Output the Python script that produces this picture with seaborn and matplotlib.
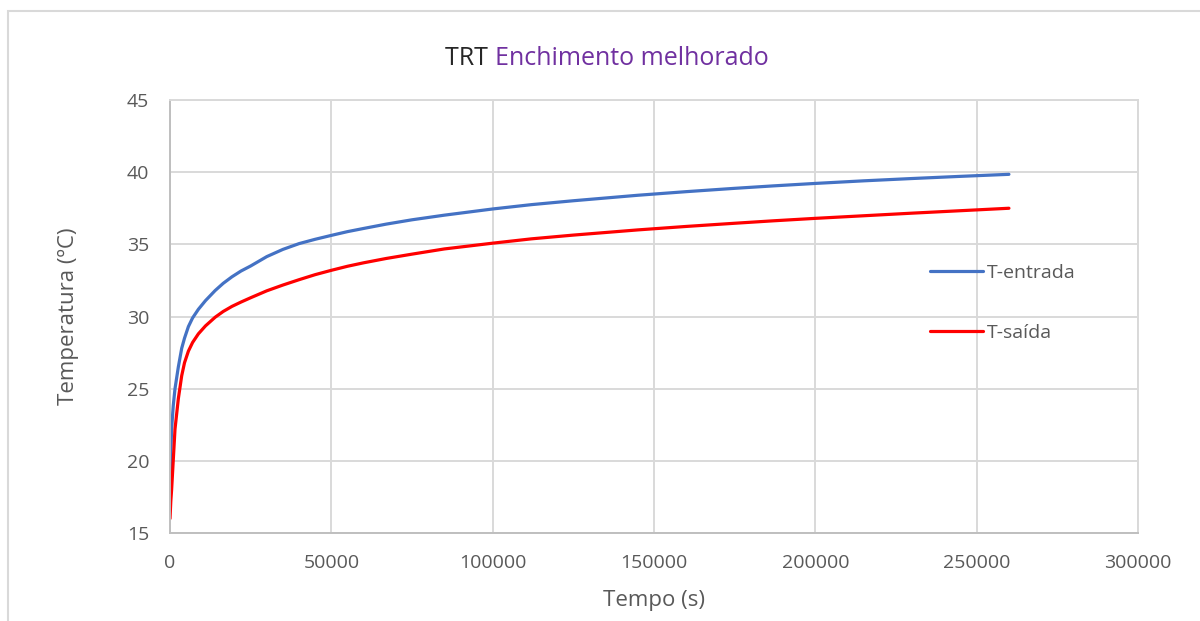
import matplotlib
matplotlib.use("Agg")
import matplotlib.pyplot as plt
import numpy as np
import pandas as pd
import seaborn as sns
from matplotlib.patches import Rectangle

# readings taken off the reference chart (time in s, temperature in ºC)
tempo = [0, 250, 500, 1000, 1550, 2580, 3630, 4500, 5700, 7000, 8800, 11000,
         14000, 16500, 19200, 22000, 25000, 30000, 35000, 40000, 45000, 50000,
         55000, 60000, 67000, 75000, 85000, 100000, 112000, 125000, 145000,
         160000, 175000, 187000, 200000, 215000, 230000, 245000, 260000]
t_entrada = [18.5, 20.6, 22.2, 23.8, 25.0, 26.5, 27.8, 28.5, 29.3, 29.9, 30.5, 31.1,
             31.8, 32.3, 32.75, 33.15, 33.5, 34.15, 34.65, 35.05, 35.35, 35.62,
             35.88, 36.1, 36.4, 36.7, 37.02, 37.45, 37.75, 38.02, 38.4,
             38.65, 38.88, 39.05, 39.22, 39.4, 39.56, 39.71, 39.85]
t_saida = [16.0, 17.2, 18.0, 20.0, 22.2, 24.3, 25.9, 26.8, 27.6, 28.2, 28.8, 29.35,
           29.95, 30.35, 30.7, 31.0, 31.3, 31.78, 32.18, 32.55, 32.9, 33.2,
           33.48, 33.72, 34.02, 34.32, 34.68, 35.08, 35.38, 35.64, 36.0,
           36.24, 36.46, 36.63, 36.8, 36.98, 37.16, 37.33, 37.5]
series_names = ["T-entrada", "T-saída"]
x_ticks = [0, 50000, 100000, 150000, 200000, 250000, 300000]
y_ticks = [15, 20, 25, 30, 35, 40, 45]

sns.set_theme(style="whitegrid")
plt.rcParams["font.family"] = ["Open Sans", "DejaVu Sans"]

grey_text = "#595959"
grid_col = "#D9D9D9"

df = pd.DataFrame({"Tempo": tempo, series_names[0]: t_entrada, series_names[1]: t_saida})
long_df = df.melt(id_vars="Tempo", var_name="Serie", value_name="Temperatura")

fig = plt.figure(figsize=(12, 6.21), dpi=100)
fig.patch.set_facecolor("white")
ax = fig.add_axes([170 / 1200, 1 - 533 / 621, 968 / 1200, 433 / 621])

sns.lineplot(data=long_df, x="Tempo", y="Temperatura", hue="Serie",
             palette={series_names[0]: "#4472C4", series_names[1]: "#FF0000"},
             linewidth=2.3, ax=ax, sort=False)
for ln in ax.get_lines():
    ln.set_solid_joinstyle("round")

ax.set_xlim(0, 300000)
ax.set_ylim(15, 45)
ax.set_xticks(x_ticks)
ax.set_yticks(y_ticks)
ax.set_xticklabels([str(v) for v in x_ticks])
ax.set_yticklabels([str(v) for v in y_ticks])
ax.tick_params(axis="both", length=0, pad=15, labelsize=14, labelcolor=grey_text)
ax.grid(True, color=grid_col, linewidth=1.4)
ax.set_facecolor("white")
for sp in ax.spines.values():
    sp.set_color(grid_col)
    sp.set_linewidth(1.4)
ax.spines["left"].set_color("#BFBFBF")
ax.spines["bottom"].set_color("#BFBFBF")

ax.set_xlabel("Tempo (s)", fontsize=16, color=grey_text, labelpad=13)
ax.set_ylabel("Temperatura (ºC)", fontsize=16, color=grey_text, labelpad=34)

handles, labels = ax.get_legend_handles_labels()
ax.legend(handles, labels, frameon=False, loc="center left",
          bbox_to_anchor=(930 / 1200, 1 - 303 / 621), bbox_transform=fig.transFigure,
          fontsize=14, labelcolor=grey_text, handlelength=2.7, handletextpad=0.25,
          labelspacing=2.15, borderpad=0, borderaxespad=0)

# chart outer border
fig.patches.append(Rectangle((8 / 1200, -0.05), 1.1, 1 - 11 / 621 + 0.05,
                             transform=fig.transFigure, fill=False,
                             edgecolor=grid_col, linewidth=1.5))

# two-coloured title
fig.canvas.draw()
r = fig.canvas.get_renderer()
t1 = fig.text(0, 0.905, "TRT ", fontsize=18, color="#262626", va="center")
t2 = fig.text(0, 0.905, "Enchimento melhorado", fontsize=18, color="#7030A0", va="center")
w1 = t1.get_window_extent(r).width
w2 = t2.get_window_extent(r).width
x0 = 607 - (w1 + w2) / 2
t1.set_x(x0 / 1200)
t2.set_x((x0 + w1) / 1200)

fig.savefig("out.png", dpi=100, facecolor="white")
